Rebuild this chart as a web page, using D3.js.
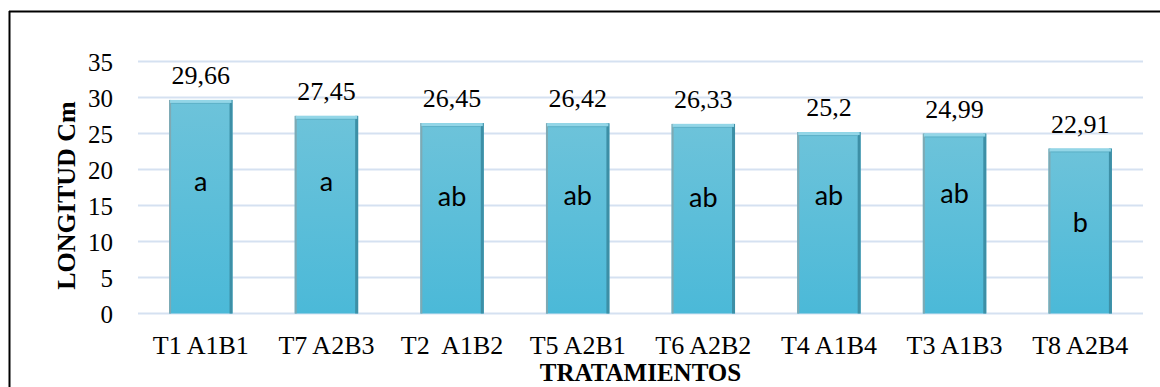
<!DOCTYPE html>
<html>
<head>
<meta charset="utf-8">
<script src="https://cdn.jsdelivr.net/npm/d3@7"></script>
<style>
  html, body { margin: 0; padding: 0; background: #fff; }
  svg { display: block; }
</style>
</head>
<body>
<svg id="chart" width="1160" height="387"></svg>
<script>
// Treatments, mean length (cm) and significance groups
const categories = ["T1 A1B1", "T7 A2B3", "T2  A1B2", "T5 A2B1", "T6 A2B2", "T4 A1B4", "T3 A1B3", "T8 A2B4"];
const values = [29.66, 27.45, 26.45, 26.42, 26.33, 25.2, 24.99, 22.91];
const valueLabels = ["29,66", "27,45", "26,45", "26,42", "26,33", "25,2", "24,99", "22,91"];
const groups = ["a", "a", "ab", "ab", "ab", "ab", "ab", "b"];
// height (in cm units) at which each group letter sits inside its bar
const groupLevels = [18.3, 18.3, 16.2, 16.4, 16.1, 16.4, 16.6, 12.7];
const yTicks = [0, 5, 10, 15, 20, 25, 30, 35];

const svg = d3.select("#chart");
const W = 1160, H = 387;
const plot = { left: 138, right: 1143, top: 61.5, bottom: 313.5 };

const x = d3.scaleBand().domain(categories).range([plot.left, plot.right]).paddingInner(0.495).paddingOuter(0.2475);
const y = d3.scaleLinear().domain([0, 35]).range([plot.bottom, plot.top]);

// frame: top and left rules
svg.append("line").attr("x1", 9).attr("x2", W).attr("y1", 11.5).attr("y2", 11.5)
  .attr("stroke", "#000").attr("stroke-width", 2);
svg.append("line").attr("x1", 9.5).attr("x2", 9.5).attr("y1", 11).attr("y2", H)
  .attr("stroke", "#000").attr("stroke-width", 2);

// gridlines
svg.append("g").selectAll("line").data(yTicks).join("line")
  .attr("x1", plot.left).attr("x2", plot.right)
  .attr("y1", d => y(d)).attr("y2", d => y(d))
  .attr("stroke", "#d5e1f1").attr("stroke-width", 2);

// y tick labels
const yAxis = d3.axisLeft(y).tickValues(yTicks).tickSize(0).tickPadding(25);
const gy = svg.append("g").attr("transform", `translate(${plot.left},0)`).call(yAxis);
gy.select(".domain").remove();
gy.selectAll("text").attr("font-family", "'Liberation Serif', 'Times New Roman', serif")
  .attr("font-size", 25).attr("fill", "#000").attr("dy", "0.34em");

// x tick labels
const xAxis = d3.axisBottom(x).tickSize(0).tickPadding(22);
const gx = svg.append("g").attr("transform", `translate(0,${plot.bottom})`).call(xAxis);
gx.select(".domain").remove();
gx.selectAll("text").attr("font-family", "'Liberation Serif', 'Times New Roman', serif")
  .attr("font-size", 26).attr("fill", "#000").style("white-space", "pre");

// bar gradients
const defs = svg.append("defs");
const grad = defs.append("linearGradient").attr("id", "barFill").attr("x1", 0).attr("y1", 0).attr("x2", 0).attr("y2", 1);
grad.append("stop").attr("offset", "0%").attr("stop-color", "#6dc3da");
grad.append("stop").attr("offset", "100%").attr("stop-color", "#4bb9d8");

const bars = svg.append("g").selectAll("g").data(categories).join("g");
bars.append("rect")
  .attr("x", d => x(d)).attr("width", x.bandwidth())
  .attr("y", (d, i) => y(values[i])).attr("height", (d, i) => y(0) - y(values[i]))
  .attr("fill", "url(#barFill)");
// bevel: left shade
bars.append("rect")
  .attr("x", d => x(d)).attr("width", 2)
  .attr("y", (d, i) => y(values[i])).attr("height", (d, i) => y(0) - y(values[i]))
  .attr("fill", "#7fa9b3");
// bevel: right shade
bars.append("rect")
  .attr("x", d => x(d) + x.bandwidth() - 3).attr("width", 3)
  .attr("y", (d, i) => y(values[i])).attr("height", (d, i) => y(0) - y(values[i]))
  .attr("fill", "#3d8fa6");
// bevel: top highlight
bars.append("rect")
  .attr("x", d => x(d) + 1).attr("width", x.bandwidth() - 2)
  .attr("y", (d, i) => y(values[i])).attr("height", 3)
  .attr("fill", "#93d6e7");
bars.append("line")
  .attr("x1", d => x(d) + 2).attr("x2", d => x(d) + x.bandwidth() - 3)
  .attr("y1", (d, i) => y(values[i]) + 3.5).attr("y2", (d, i) => y(values[i]) + 3.5)
  .attr("stroke", "#5fb2c8").attr("stroke-width", 1);

// value labels above bars
svg.append("g").selectAll("text").data(categories).join("text")
  .attr("x", d => x(d) + x.bandwidth() / 2)
  .attr("y", (d, i) => y(values[i]) - 16)
  .attr("text-anchor", "middle")
  .attr("font-family", "'Liberation Serif', 'Times New Roman', serif")
  .attr("font-size", 26).attr("fill", "#000")
  .text((d, i) => valueLabels[i]);

// group letters inside bars
svg.append("g").selectAll("text").data(categories).join("text")
  .attr("x", d => x(d) + x.bandwidth() / 2)
  .attr("y", (d, i) => y(groupLevels[i]))
  .attr("dy", "0.35em")
  .attr("text-anchor", "middle")
  .attr("font-family", "Lato, 'Liberation Sans', sans-serif")
  .attr("font-size", 27).attr("fill", "#000")
  .text((d, i) => groups[i]);

// axis titles
svg.append("text")
  .attr("transform", `translate(75,${(plot.top + plot.bottom) / 2 + 8}) rotate(-90)`)
  .attr("text-anchor", "middle")
  .attr("font-family", "'Liberation Serif', 'Times New Roman', serif")
  .attr("font-weight", "bold").attr("font-size", 26).attr("fill", "#000")
  .text("LONGITUD Cm");

svg.append("text")
  .attr("x", (plot.left + plot.right) / 2).attr("y", 381)
  .attr("text-anchor", "middle")
  .attr("font-family", "'Liberation Serif', 'Times New Roman', serif")
  .attr("font-weight", "bold").attr("font-size", 25).attr("fill", "#000")
  .text("TRATAMIENTOS");
</script>
</body>
</html>
